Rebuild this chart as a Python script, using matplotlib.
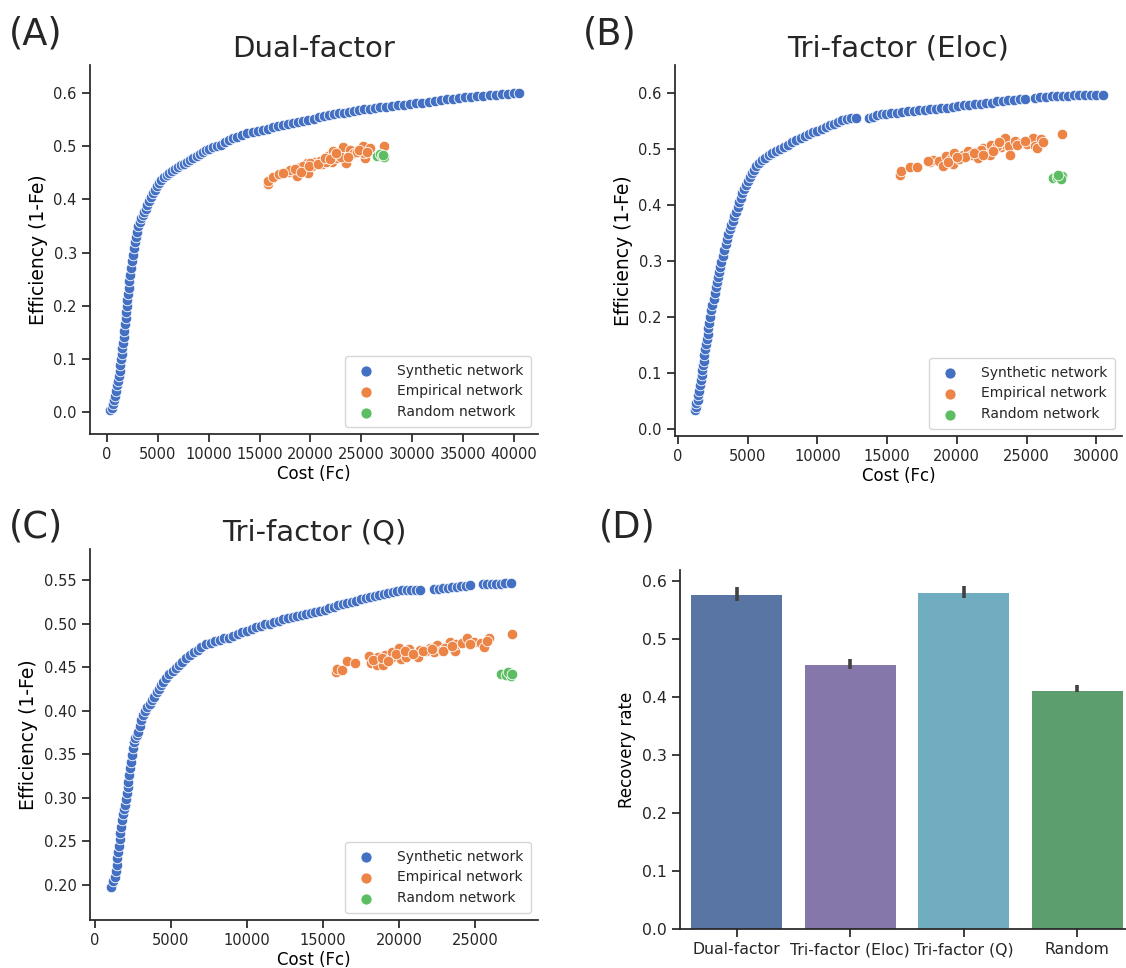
import matplotlib
matplotlib.use("Agg")
import matplotlib.pyplot as plt
import numpy as np

plt.rcParams["font.family"] = ["DejaVu Sans"]
plt.rcParams["axes.edgecolor"] = "#262626"
plt.rcParams["axes.linewidth"] = 1.25
plt.rcParams["xtick.major.width"] = 1.25
plt.rcParams["ytick.major.width"] = 1.25
plt.rcParams["xtick.major.size"] = 6
plt.rcParams["ytick.major.size"] = 6
plt.rcParams["xtick.color"] = "#262626"
plt.rcParams["ytick.color"] = "#262626"
plt.rcParams["text.color"] = "#262626"

SYN_COLOR = "#4470c4"
EMP_COLOR = "#ec8446"
RND_COLOR = "#5dbd62"

# ---- (A) Dual-factor ----
dual_syn_cost = [300, 450, 600, 700, 800, 900, 1000, 1080, 1150, 1230, 1300, 1380, 1450, 1520,
                 1580, 1640, 1700, 1760, 1820, 1880, 1940, 2000, 2070, 2140, 2210, 2290, 2380,
                 2470, 2560, 2650, 2740, 2850, 2960, 3080, 3200, 3350, 3500, 3650, 3800, 3950,
                 4100, 4300, 4500, 4700, 4900, 5100, 5350, 5600, 5850, 6100, 6400, 6700, 7000,
                 7300, 7600, 7900, 8200, 8500, 8800, 9100, 9400, 9700, 10000, 10400, 10800,
                 11200, 11600, 12000, 12400, 12800, 13300, 13800, 14300, 14800, 15300, 15800,
                 16300, 16800, 17300, 17800, 18300, 18800, 19300, 19800, 20300, 20800, 21300,
                 21800, 22300, 22800, 23300, 23800, 24300, 24800, 25300, 25800, 26300, 26800,
                 27400, 28000, 28600, 29200, 29800, 30400, 31000, 31600, 32200, 32800, 33400,
                 34000, 34600, 35200, 35800, 36400, 37000, 37600, 38200, 38800, 39400, 40000,
                 40500]
dual_syn_eff = [0.003, 0.008, 0.015, 0.022, 0.030, 0.040, 0.050, 0.058, 0.067, 0.078, 0.088,
                0.100, 0.110, 0.120, 0.130, 0.141, 0.153, 0.165, 0.176, 0.188, 0.199, 0.210,
                0.222, 0.234, 0.246, 0.258, 0.271, 0.284, 0.296, 0.308, 0.319, 0.329, 0.339,
                0.349, 0.357, 0.364, 0.370, 0.376, 0.382, 0.389, 0.396, 0.404, 0.411, 0.418,
                0.425, 0.431, 0.437, 0.442, 0.446, 0.449, 0.453, 0.457, 0.461, 0.464, 0.467,
                0.470, 0.474, 0.478, 0.482, 0.486, 0.489, 0.492, 0.495, 0.498, 0.500, 0.503,
                0.507, 0.511, 0.515, 0.518, 0.521, 0.524, 0.526, 0.529, 0.531, 0.533, 0.536,
                0.538, 0.540, 0.542, 0.544, 0.546, 0.548, 0.550, 0.552, 0.554, 0.556, 0.558,
                0.560, 0.562, 0.563, 0.565, 0.566, 0.568, 0.569, 0.570, 0.572, 0.573, 0.574,
                0.576, 0.577, 0.578, 0.580, 0.581, 0.582, 0.584, 0.585, 0.587, 0.588, 0.589,
                0.590, 0.592, 0.593, 0.594, 0.595, 0.596, 0.597, 0.598, 0.599, 0.600, 0.600]
dual_emp_cost = [15800, 15860, 16350, 16950, 17930, 18390, 18720, 18980, 19480, 19800, 19640,
                 20130, 20460, 21120, 21280, 21680, 22100, 22200, 22590, 22760, 23190, 23320,
                 23510, 23910, 24240, 24560, 25160, 25390, 25220, 25810, 27190, 18000, 19300,
                 20000, 20900, 21500, 22400, 23000, 18500, 19100, 19900, 20700, 21400, 21900,
                 22500, 23700, 24800, 25600, 17300]
dual_emp_eff = [0.429, 0.435, 0.442, 0.447, 0.452, 0.454, 0.443, 0.460, 0.456, 0.449, 0.468,
                0.462, 0.471, 0.466, 0.474, 0.481, 0.471, 0.490, 0.477, 0.484, 0.498, 0.477,
                0.468, 0.493, 0.487, 0.489, 0.500, 0.477, 0.487, 0.497, 0.501, 0.455, 0.462,
                0.468, 0.473, 0.470, 0.483, 0.480, 0.458, 0.451, 0.463, 0.467, 0.478, 0.476,
                0.487, 0.480, 0.493, 0.489, 0.450]
dual_rnd_cost = [26530, 26800, 27030, 27260, 27150]
dual_rnd_eff = [0.482, 0.486, 0.481, 0.479, 0.484]

# ---- (B) Tri-factor (Eloc) ----
eloc_syn_cost = [1200, 1260, 1320, 1400, 1470, 1540, 1600, 1650, 1700, 1750, 1800, 1850, 1900,
                 1950, 2000, 2060, 2120, 2180, 2240, 2310, 2390, 2470, 2550, 2620, 2700, 2780,
                 2860, 2940, 3020, 3120, 3220, 3320, 3420, 3520, 3620, 3720, 3830, 3940, 4050,
                 4160, 4270, 4380, 4500, 4620, 4740, 4870, 5000, 5150, 5300, 5450, 5600, 5800,
                 6000, 6250, 6500, 6750, 7000, 7300, 7600, 7900, 8200, 8500, 8800, 9100, 9400,
                 9700, 10000, 10300, 10600, 10900, 11200, 11500, 11800, 12100, 12400, 12750,
                 13700, 14000, 14300, 14600, 14900, 15300, 15700, 16100, 16500, 16900, 17300,
                 17700, 18100, 18500, 18900, 19300, 19700, 20100, 20500, 20900, 21300, 21700,
                 22100, 22500, 22900, 23300, 23700, 24100, 24500, 24900, 25600, 26000, 26400,
                 26800, 27200, 27600, 28000, 28400, 28800, 29200, 29600, 30000, 30500]
eloc_syn_eff = [0.034, 0.040, 0.046, 0.052, 0.060, 0.068, 0.078, 0.088, 0.097, 0.106, 0.114,
                0.122, 0.132, 0.143, 0.152, 0.160, 0.170, 0.180, 0.190, 0.200, 0.212, 0.222,
                0.233, 0.243, 0.253, 0.262, 0.271, 0.280, 0.289, 0.299, 0.309, 0.320, 0.331,
                0.340, 0.349, 0.357, 0.364, 0.372, 0.380, 0.388, 0.397, 0.405, 0.413, 0.421,
                0.428, 0.435, 0.442, 0.450, 0.457, 0.463, 0.469, 0.475, 0.480, 0.484, 0.489,
                0.493, 0.497, 0.500, 0.504, 0.508, 0.512, 0.516, 0.520, 0.524, 0.527, 0.530,
                0.533, 0.536, 0.539, 0.542, 0.545, 0.548, 0.551, 0.553, 0.555, 0.556, 0.556,
                0.558, 0.560, 0.562, 0.563, 0.564, 0.565, 0.566, 0.567, 0.568, 0.569, 0.570,
                0.571, 0.572, 0.573, 0.574, 0.575, 0.576, 0.578, 0.579, 0.580, 0.581, 0.582,
                0.583, 0.585, 0.586, 0.587, 0.588, 0.589, 0.590, 0.591, 0.592, 0.593, 0.594,
                0.594, 0.595, 0.595, 0.596, 0.596, 0.597, 0.597, 0.597, 0.597]
eloc_emp_cost = [15940, 15990, 16660, 17140, 18100, 18270, 18750, 18990, 19230, 19590, 19790,
                 19710, 20190, 20440, 20800, 21040, 21400, 21520, 21880, 22120, 22360, 22480,
                 22840, 23150, 23320, 23490, 23750, 23850, 24160, 24590, 25000, 25480, 25600,
                 25720, 26040, 27530, 20600, 21700, 22900, 17900, 19400, 20000, 21200, 21900,
                 22600, 23000, 24300, 24900, 26200]
eloc_emp_eff = [0.454, 0.460, 0.468, 0.467, 0.476, 0.480, 0.479, 0.470, 0.487, 0.482, 0.493,
                0.473, 0.482, 0.489, 0.497, 0.489, 0.495, 0.484, 0.501, 0.493, 0.490, 0.508,
                0.501, 0.503, 0.509, 0.520, 0.505, 0.490, 0.514, 0.511, 0.509, 0.519, 0.505,
                0.501, 0.517, 0.526, 0.485, 0.498, 0.506, 0.478, 0.476, 0.486, 0.492, 0.490,
                0.497, 0.512, 0.507, 0.515, 0.512]
eloc_rnd_cost = [26930, 27170, 27360, 27530, 27480, 27290]
eloc_rnd_eff = [0.449, 0.450, 0.452, 0.451, 0.446, 0.454]

# ---- (C) Tri-factor (Q) ----
q_syn_cost = [1040, 1200, 1300, 1370, 1420, 1470, 1520, 1570, 1620, 1670, 1720, 1780, 1840,
              1900, 1960, 2020, 2080, 2140, 2200, 2260, 2320, 2380, 2440, 2500, 2570, 2650,
              2740, 2850, 2950, 3050, 3170, 3300, 3450, 3600, 3750, 3900, 4050, 4200, 4350,
              4500, 4700, 4900, 5100, 5300, 5500, 5750, 6000, 6250, 6500, 6750, 7000, 7300,
              7600, 7900, 8200, 8500, 8800, 9100, 9400, 9700, 10000, 10300, 10600, 10900,
              11200, 11500, 11800, 12100, 12400, 12700, 13000, 13300, 13600, 13900, 14200,
              14500, 14800, 15100, 15400, 15700, 16000, 16300, 16600, 16900, 17200, 17500,
              17800, 18100, 18400, 18700, 19000, 19300, 19600, 19900, 20200, 20500, 20800,
              21100, 21400, 22300, 22600, 22900, 23200, 23500, 23800, 24100, 24400, 24700,
              25500, 25800, 26100, 26400, 26700, 27000, 27400]
q_syn_eff = [0.198, 0.204, 0.209, 0.216, 0.223, 0.231, 0.238, 0.245, 0.253, 0.260, 0.267,
             0.274, 0.281, 0.287, 0.292, 0.299, 0.306, 0.312, 0.318, 0.326, 0.334, 0.341,
             0.349, 0.357, 0.364, 0.369, 0.372, 0.376, 0.383, 0.389, 0.395, 0.400, 0.404,
             0.408, 0.412, 0.416, 0.421, 0.425, 0.429, 0.433, 0.438, 0.442, 0.446, 0.449,
             0.452, 0.456, 0.460, 0.464, 0.467, 0.470, 0.473, 0.476, 0.478, 0.480, 0.481,
             0.483, 0.484, 0.486, 0.488, 0.490, 0.492, 0.494, 0.496, 0.497, 0.499, 0.500,
             0.502, 0.503, 0.505, 0.506, 0.507, 0.509, 0.510, 0.511, 0.512, 0.513, 0.515,
             0.516, 0.518, 0.519, 0.521, 0.522, 0.524, 0.525, 0.526, 0.528, 0.529, 0.530,
             0.532, 0.533, 0.534, 0.535, 0.536, 0.537, 0.538, 0.538, 0.539, 0.539, 0.539,
             0.540, 0.540, 0.541, 0.541, 0.542, 0.542, 0.543, 0.543, 0.544, 0.545, 0.545,
             0.545, 0.546, 0.546, 0.547, 0.547]
q_emp_cost = [15880, 15900, 16250, 16600, 17080, 18010, 18160, 18590, 18550, 18920, 19090,
              19460, 19570, 20000, 20150, 20440, 20650, 21240, 21410, 22060, 22280, 22490,
              22820, 23140, 23360, 23690, 23750, 24120, 24450, 24940, 25420, 25590, 25920,
              27430, 19800, 21800, 23000, 18300, 18900, 19300, 20400, 20900, 21600, 22200,
              22900, 23500, 24700, 25800]
q_emp_eff = [0.444, 0.448, 0.447, 0.457, 0.455, 0.463, 0.455, 0.462, 0.452, 0.453, 0.464,
             0.460, 0.467, 0.472, 0.459, 0.462, 0.471, 0.462, 0.470, 0.472, 0.467, 0.475,
             0.470, 0.474, 0.479, 0.469, 0.476, 0.478, 0.483, 0.479, 0.478, 0.473, 0.484,
             0.488, 0.465, 0.468, 0.472, 0.458, 0.460, 0.457, 0.468, 0.465, 0.468, 0.471,
             0.468, 0.474, 0.476, 0.480]
q_rnd_cost = [26720, 27040, 27260, 27370, 27150, 27430]
q_rnd_eff = [0.442, 0.441, 0.444, 0.440, 0.445, 0.442]

# ---- (D) recovery rate ----
models = ["Dual-factor", "Tri-factor (Eloc)", "Tri-factor (Q)", "Random"]
recovery = [0.576, 0.455, 0.580, 0.411]
recovery_lo = [0.566, 0.448, 0.571, 0.408]
recovery_hi = [0.590, 0.465, 0.591, 0.420]
bar_colors = ["#5875a4", "#8577aa", "#70adc1", "#5c9e6e"]

W, H = 1126, 968
fig = plt.figure(figsize=(W / 100, H / 100), dpi=100)


def box(left, top, right, bottom):
    return [left / W, 1 - bottom / H, (right - left) / W, (bottom - top) / H]


def scatter_panel(ax, syn, emp, rnd, title):
    kw = dict(s=58, edgecolors="white", linewidths=0.6)
    ax.scatter(syn[0], syn[1], color=SYN_COLOR, label="Synthetic network", **kw)
    ax.scatter(emp[0], emp[1], color=EMP_COLOR, label="Empirical network", **kw)
    ax.scatter(rnd[0], rnd[1], color=RND_COLOR, label="Random network", **kw)
    ax.set_title(title, fontsize=21, pad=6)
    ax.set_xlabel("Cost (Fc)", fontsize=12, labelpad=2)
    ax.set_ylabel("Efficiency (1-Fe)", fontsize=13.5)
    ax.tick_params(labelsize=10.5)
    for side in ["top", "right"]:
        ax.spines[side].set_visible(False)
    leg = ax.legend(loc="lower right", fontsize=10, markerscale=1.05, borderpad=0.55,
                    handletextpad=1.2, labelspacing=0.5)
    leg.get_frame().set_edgecolor("#cccccc")


axA = fig.add_axes(box(90, 65, 538, 434))
scatter_panel(axA, (dual_syn_cost, dual_syn_eff), (dual_emp_cost, dual_emp_eff),
              (dual_rnd_cost, dual_rnd_eff), "Dual-factor")
axA.set_xlim(-1671, 42359)
axA.set_ylim(-0.0414, 0.6527)
axA.set_xticks(np.arange(0, 40001, 5000))
axA.set_yticks(np.arange(0, 0.61, 0.1))
axA.set_yticklabels([f"{v:.1f}" for v in np.arange(0, 0.61, 0.1)])

axB = fig.add_axes(box(675, 65, 1122, 436))
scatter_panel(axB, (eloc_syn_cost, eloc_syn_eff), (eloc_emp_cost, eloc_emp_eff),
              (eloc_rnd_cost, eloc_rnd_eff), "Tri-factor (Eloc)")
axB.set_xlim(-215, 31850)
axB.set_ylim(-0.0125, 0.65)
axB.set_xticks(np.arange(0, 30001, 5000))
axB.set_yticks(np.arange(0, 0.61, 0.1))
axB.set_yticklabels([f"{v:.1f}" for v in np.arange(0, 0.61, 0.1)])

axC = fig.add_axes(box(90, 549, 538, 920))
scatter_panel(axC, (q_syn_cost, q_syn_eff), (q_emp_cost, q_emp_eff),
              (q_rnd_cost, q_rnd_eff), "Tri-factor (Q)")
axC.set_xlim(-329, 29145)
axC.set_ylim(0.1598, 0.5856)
axC.set_xticks(np.arange(0, 25001, 5000))
yt = np.arange(0.20, 0.551, 0.05)
axC.set_yticks(yt)
axC.set_yticklabels([f"{v:.2f}" for v in yt])

axD = fig.add_axes(box(680, 570, 1126, 929))
xpos = np.arange(len(models))
axD.bar(xpos, recovery, width=0.8, color=bar_colors)
yerr = [np.array(recovery) - np.array(recovery_lo), np.array(recovery_hi) - np.array(recovery)]
axD.errorbar(xpos, recovery, yerr=yerr, fmt="none", ecolor="#424242", elinewidth=2.6)
axD.set_xticks(xpos)
axD.set_xticklabels(models, fontsize=11.3)
axD.set_xlim(-0.5, 3.43)
axD.set_ylim(0, 0.619)
axD.set_yticks(np.arange(0, 0.61, 0.1))
axD.set_yticklabels([f"{v:.1f}" for v in np.arange(0, 0.61, 0.1)], fontsize=11.3)
axD.set_ylabel("Recovery rate", fontsize=12)
for side in ["top", "right"]:
    axD.spines[side].set_visible(False)

# panel letters
for letter, x, y in [("(A)", 9, 34), ("(B)", 583, 34), ("(C)", 9, 527), ("(D)", 599, 527)]:
    fig.text(x / W, 1 - y / H, letter, fontsize=26.5, ha="left", va="center")

fig.savefig("out.png", dpi=100)
